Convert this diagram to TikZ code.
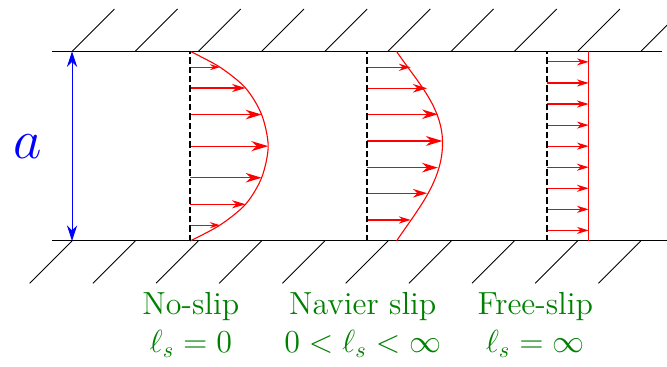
\documentclass[tikz,border=0pt]{standalone}
\usetikzlibrary{arrows.meta}
\begin{document}
\begin{tikzpicture}[
  wall/.style={line width=0.5pt},
  hatch/.style={line width=0.4pt},
  probe/.style={line width=1pt,dash pattern=on 2.8pt off 1.4pt},
  prof/.style={red,line width=0.5pt},
  lbl/.style={green!50!black,font=\fontsize{14.4}{17.2}\selectfont,align=center,anchor=north,inner sep=0pt}]
\clip (-1.14,-1.99) rectangle (9.415,3.813);

% walls
\draw[wall] (-0.32,3)--(9.33,3);
\draw[wall] (-0.32,0)--(9.5,0);
\foreach \x in {0,...,9}{
  \draw[hatch] (\x,3)--++(0.67,0.67);
  \draw[hatch] (\x,0)--++(-0.67,-0.67);
}

% channel width
\coordinate (a0) at (0,0);
\coordinate (a1) at (0,3);
\draw[blue,{Stealth[length=7pt,width=4.6pt]}-{Stealth[length=7pt,width=4.6pt]}] (a0)--(a1);
\node[blue,font=\fontsize{29}{30}\selectfont] (gap) at (-0.7,1.49) {\(a\)};

% no-slip
\draw[prof] plot[smooth] coordinates {(1.87,0) (2.34,0.25) (2.746,0.58)
    (3.0,1.0) (3.104,1.5) (3.0,2.0) (2.746,2.42) (2.34,2.75) (1.87,3)};
\foreach \y/\l in {0.25/0.47,0.58/0.876,1.0/1.13,1.5/1.234,2.0/1.13,2.42/0.876,2.75/0.47}{
  \pgfmathsetmacro\hl{2.5+4.15*\l}
  \pgfmathsetmacro\hw{0.6*\hl}
  \draw[prof,-{Stealth[length=\hl pt,width=\hw pt]}] (1.87,\y)--++(\l,0);
}
\draw[probe] (1.87,0)--(1.87,3);

% Navier slip
\draw[prof] (5.135,0) to[out=56,in=-90,looseness=0.9] (5.863,1.55)
    to[out=90,in=-56,looseness=0.9] (5.135,3);
\foreach \y/\l in {0.332/0.69,0.755/0.95,1.16/1.12,1.582/1.19,2.005/1.12,2.416/0.95,2.748/0.69}{
  \pgfmathsetmacro\hl{2.5+4.15*\l}
  \pgfmathsetmacro\hw{0.6*\hl}
  \draw[prof,-{Stealth[length=\hl pt,width=\hw pt]}] (4.67,\y)--++(\l,0);
}
\draw[probe] (4.67,0)--(4.67,3);

% free-slip
\draw[prof] (8.175,0)--(8.175,3);
\foreach \k in {0,...,8}
  \draw[prof,-{Stealth[length=5.3pt,width=3.2pt]}] (7.51,\k/3+1/6)--++(0.665,0);
\draw[probe] (7.51,0)--(7.51,3);

% labels
\node[lbl] (noslip) at (1.88,-0.8) {No-slip\\ \(\ell_s=0\)};
\node[lbl] (navier) at (4.6,-0.8) {Navier slip\\ \(0<\ell_s<\infty\)};
\node[lbl] (freeslip) at (7.33,-0.8) {Free-slip\\ \(\ell_s=\infty\)};
\end{tikzpicture}
\end{document}
